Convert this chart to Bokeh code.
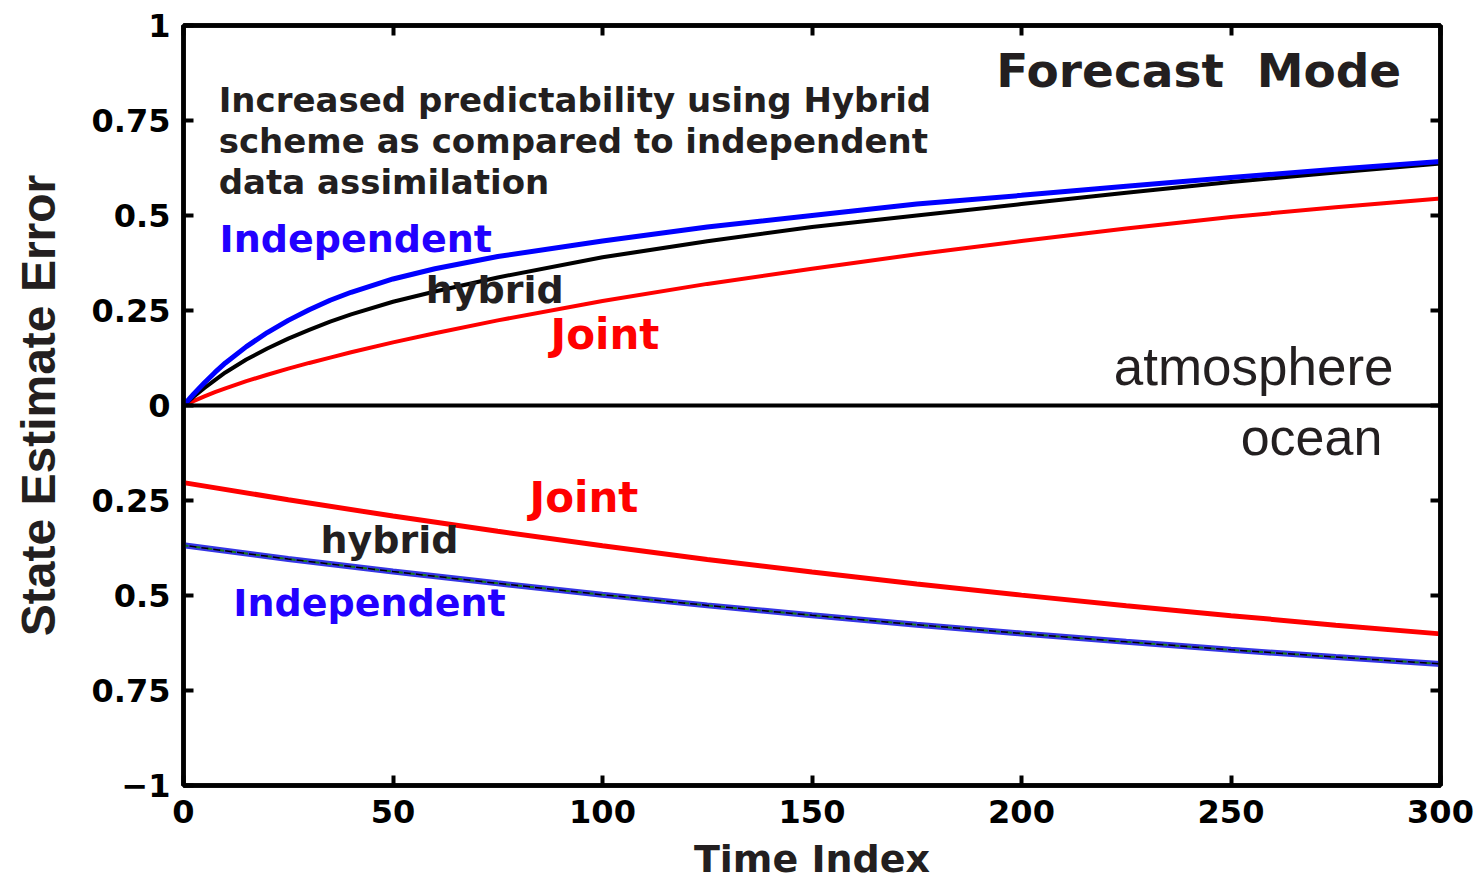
from bokeh.plotting import figure
from bokeh.models import Range1d, LinearAxis, FixedTicker, Span, Label
from bokeh.embed import file_html
from bokeh.resources import INLINE

# ---- data ----
t_atm = [0, 2.5, 5, 7.5, 10, 15, 20, 25, 30, 35, 40, 50, 60, 75, 100, 125, 150,
         175, 200, 225, 250, 275, 300]
atm_independent = [0, 0.031, 0.06, 0.087, 0.112, 0.155, 0.192, 0.224, 0.252, 0.277, 0.298,
                   0.333, 0.36, 0.392, 0.433, 0.47, 0.50, 0.53, 0.553, 0.577, 0.60, 0.622, 0.642]
atm_hybrid = [0, 0.024, 0.046, 0.067, 0.087, 0.121, 0.15, 0.176, 0.199, 0.221, 0.24,
              0.273, 0.30, 0.337, 0.39, 0.432, 0.47, 0.50, 0.53, 0.56, 0.588, 0.613, 0.637]
atm_joint = [0, 0.012, 0.024, 0.035, 0.045, 0.064, 0.081, 0.097, 0.112, 0.126, 0.14,
             0.166, 0.19, 0.224, 0.275, 0.32, 0.36, 0.398, 0.433, 0.466, 0.496, 0.522, 0.545]

t_ocean = [0, 25, 50, 75, 100, 125, 150, 175, 200, 225, 250, 275, 300]
ocean_joint = [-0.203, -0.248, -0.291, -0.331, -0.369, -0.405, -0.438, -0.470, -0.499,
               -0.527, -0.553, -0.578, -0.601]
ocean_independent = [-0.368, -0.404, -0.437, -0.468, -0.498, -0.526, -0.552, -0.577, -0.600,
                     -0.622, -0.643, -0.662, -0.680]
ocean_hybrid = [-0.368, -0.404, -0.437, -0.468, -0.498, -0.526, -0.552, -0.577, -0.600,
                -0.622, -0.643, -0.662, -0.680]

x_ticks = [0, 50, 100, 150, 200, 250, 300]
y_ticks = [-1, -0.75, -0.5, -0.25, 0, 0.25, 0.5, 0.75, 1]
y_tick_labels = ["\u22121", "0.75", "0.5", "0.25", "0", "0.25", "0.5", "0.75", "1"]

BOLD = "DejaVu Sans"
DARK = "#231f20"
BLUE_TXT = "#2200ff"

p = figure(width=1482, height=883, output_backend="svg", toolbar_location=None,
           x_range=Range1d(0, 300), y_range=Range1d(-1, 1),
           min_border_left=183, min_border_right=42, min_border_top=25, min_border_bottom=98)
p.grid.visible = False
p.background_fill_color = "white"
p.border_fill_color = "white"
p.outline_line_color = "black"
p.outline_line_width = 4.5

def style_axis(ax, show_labels, ticks):
    ax.axis_line_width = 4.5
    ax.axis_line_color = "black"
    ax.major_tick_in = 10
    ax.major_tick_out = 0
    ax.major_tick_line_width = 4
    ax.minor_tick_in = 0
    ax.minor_tick_out = 0
    ax.major_label_text_font = BOLD
    ax.major_label_text_font_style = "bold"
    ax.major_label_text_color = "black"
    if show_labels:
        ax.major_label_text_font_size = "32px"
    else:
        ax.major_label_text_font_size = "2px"
        ax.major_label_overrides = {k: "" for k in ticks}
        ax.major_label_standoff = 0

xa = p.xaxis[0]
xa.ticker = FixedTicker(ticks=x_ticks)
style_axis(xa, True, x_ticks)
xa.major_label_standoff = 14
xa.axis_label = "Time Index"
xa.axis_label_text_font = BOLD
xa.axis_label_text_font_style = "bold"
xa.axis_label_text_font_size = "38px"
xa.axis_label_text_color = DARK
xa.axis_label_standoff = 11

ya = p.yaxis[0]
ya.ticker = FixedTicker(ticks=y_ticks)
style_axis(ya, True, y_ticks)
ya.major_label_overrides = {k: v for k, v in zip(y_ticks, y_tick_labels)}
ya.major_label_standoff = 13
ya.axis_label = "State Estimate Error"
ya.axis_label_text_font = "Liberation Sans"
ya.axis_label_text_font_style = "bold"
ya.axis_label_text_font_size = "48px"
ya.axis_label_text_color = DARK
ya.axis_label_standoff = 24

top = LinearAxis(ticker=FixedTicker(ticks=x_ticks))
style_axis(top, False, x_ticks)
p.add_layout(top, "above")
right = LinearAxis(ticker=FixedTicker(ticks=y_ticks))
style_axis(right, False, y_ticks)
p.add_layout(right, "right")

p.add_layout(Span(location=0, dimension="width", line_color="black", line_width=4))

# atmosphere curves
p.line(t_atm, atm_joint, line_color="#ff0000", line_width=4)
p.line(t_atm, atm_hybrid, line_color="black", line_width=4)
p.line(t_atm, atm_independent, line_color="#0000ff", line_width=5)

# ocean curves
p.line(t_ocean, ocean_joint, line_color="#ff0000", line_width=5)
p.line(t_ocean, ocean_independent, line_color="#3535e6", line_width=6)
p.line(t_ocean, ocean_independent, line_color="#1a7a1a", line_width=2, line_dash="5 7")
p.line(t_ocean, ocean_hybrid, line_color="black", line_width=1.5, line_dash="7 5",
       line_dash_offset=6)

def lab(x, y, text, size, color, font=BOLD, style="bold", align="left"):
    p.add_layout(Label(x=x, y=y, text=text, text_font=font, text_font_size=size,
                       text_font_style=style, text_color=color,
                       text_align=align, text_baseline="middle"))

lab(194.0, 0.882, "Forecast\u00a0\u00a0Mode", "47px", DARK)
lab(8.4, 0.805, "Increased predictability using Hybrid", "34px", DARK)
lab(8.4, 0.697, "scheme as compared to independent", "34px", DARK)
lab(8.4, 0.589, "data assimilation", "34px", DARK)
lab(8.6, 0.438, "Independent", "38px", BLUE_TXT)
lab(57.8, 0.303, "hybrid", "38px", DARK)
lab(87.6, 0.187, "Joint", "42px", "#ff0000")
lab(222.0, 0.103, "atmosphere", "53px", DARK, font="Liberation Sans", style="normal")
lab(252.3, -0.084, "ocean", "52px", DARK, font="Liberation Sans", style="normal")
lab(82.6, -0.242, "Joint", "42px", "#ff0000")
lab(32.7, -0.355, "hybrid", "38px", DARK)
lab(11.9, -0.521, "Independent", "38px", BLUE_TXT)

open("out.html", "w").write(file_html(p, INLINE))
